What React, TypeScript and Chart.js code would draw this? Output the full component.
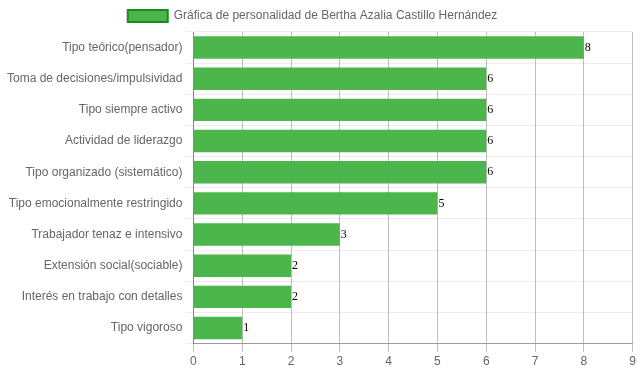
import React, { useEffect, useRef } from "react";
import { Chart, registerables } from "chart.js";

Chart.register(...registerables);

const categories = [
  "Tipo teórico(pensador)",
  "Toma de decisiones/impulsividad",
  "Tipo siempre activo",
  "Actividad de liderazgo",
  "Tipo organizado (sistemático)",
  "Tipo emocionalmente restringido",
  "Trabajador tenaz e intensivo",
  "Extensión social(sociable)",
  "Interés en trabajo con detalles",
  "Tipo vigoroso",
];
const values = [8, 6, 6, 6, 6, 5, 3, 2, 2, 1];
const seriesLabel = "Gráfica de personalidad de Bertha Azalia Castillo Hernández";
const xMin = 0;
const xMax = 9;

const valueLabelPlugin = {
  id: "valueLabels",
  afterDatasetsDraw(chart: any) {
    const ctx = chart.ctx;
    ctx.save();
    ctx.font = "12px serif";
    ctx.fillStyle = "#000";
    ctx.textAlign = "left";
    ctx.textBaseline = "middle";
    chart.data.datasets.forEach((ds: any, i: number) => {
      const meta = chart.getDatasetMeta(i);
      meta.data.forEach((bar: any, j: number) => {
        ctx.fillText(String(ds.data[j]), bar.x + 1, bar.y);
      });
    });
    ctx.restore();
  },
};

const legendShiftPlugin = {
  id: "legendShift",
  afterLayout(chart: any) {
    if (chart.legend) {
      chart.legend.left -= 6;
      chart.legend.right -= 6;
    }
  },
};

export default function App() {
  const ref = useRef<HTMLCanvasElement>(null);
  useEffect(() => {
    if (!ref.current) return;
    const font = { family: "'Liberation Sans', Arial, Helvetica, sans-serif", size: 12 };
    const chart = new Chart(ref.current, {
      type: "bar",
      data: {
        labels: categories,
        datasets: [
          {
            label: seriesLabel,
            data: values,
            backgroundColor: "#4CB54C",
            borderColor: "#1E8A1E",
            borderWidth: 0,
          },
        ],
      },
      options: {
        indexAxis: "y",
        animation: false,
        responsive: false,
        maintainAspectRatio: false,
        layout: { padding: { left: 4, right: 6, top: 0, bottom: 0 } },
        plugins: {
          legend: {
            display: true,
            labels: {
              color: "#666",
              font,
              boxWidth: 40,
              boxHeight: 12,
              generateLabels: () => [
                {
                  text: seriesLabel,
                  fillStyle: "#4CB54C",
                  strokeStyle: "#1E8A1E",
                  lineWidth: 2,
                  hidden: false,
                  datasetIndex: 0,
                  fontColor: "#666",
                } as any,
              ],
            },
          },
          tooltip: { enabled: false },
        },
        scales: {
          x: {
            min: xMin,
            max: xMax,
            ticks: { stepSize: 1, color: "#666", font },
            grid: { color: "rgba(0,0,0,0.25)", tickLength: 8 },
            border: { color: "rgba(0,0,0,0.35)" },
          },
          y: {
            ticks: { color: "#666", font },
            grid: { color: "rgba(0,0,0,0.07)", tickLength: 8 },
            border: { color: "rgba(0,0,0,0.3)" },
          },
        },
      },
      plugins: [valueLabelPlugin, legendShiftPlugin],
    });
    return () => chart.destroy();
  }, []);
  return (
    <div style={{ position: "absolute", left: 0, top: 0, width: 639, height: 372 }}>
      <canvas ref={ref} width={639} height={372} style={{ width: 639, height: 372 }} />
    </div>
  );
}
